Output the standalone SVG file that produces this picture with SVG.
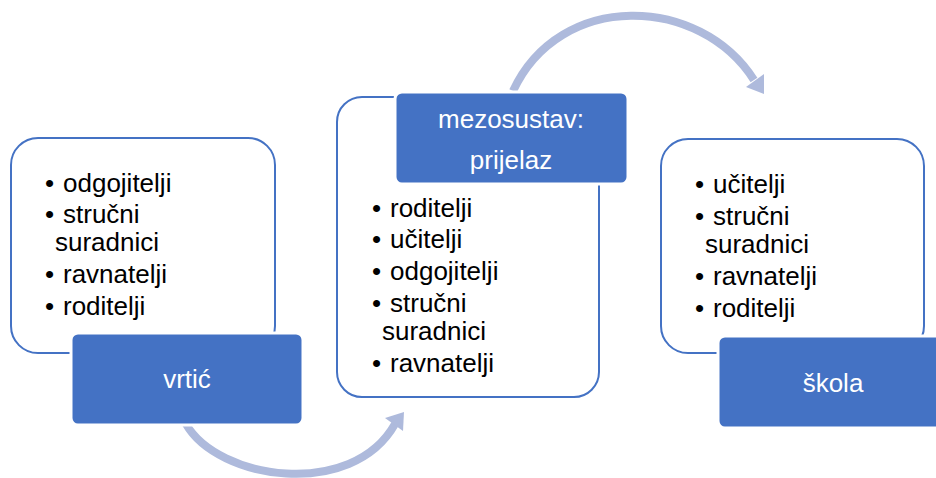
<svg xmlns="http://www.w3.org/2000/svg" width="936" height="478" viewBox="0 0 936 478">
<style>
.outline{fill:#fff;stroke:#4472C4;stroke-width:2}
.head{fill:#4472C4;stroke:#fff;stroke-width:3}
.t{font-family:"Liberation Sans",Arial,sans-serif;font-size:26px;fill:#000}
.w{font-family:"Liberation Sans",Arial,sans-serif;font-size:26px;fill:#fff;text-anchor:middle}
.arc{fill:none;stroke:#AEBADC;stroke-width:8}
.ah{fill:#AEBADC}
</style>
<rect width="936" height="478" fill="#fff"/>
<g id="connectors">
<path class="arc" d="M186 424 C 218 480, 352 500, 395 424"/>
<polygon class="ah" points="404,412 403,431 385,418"/>
<path class="arc" d="M513 91 C 560 -10, 700 -5, 754 80"/>
<polygon class="ah" points="764,94 764,74 746,87"/>
</g>
<g id="vrtic">
<rect class="outline" x="11" y="138" width="264" height="215" rx="27"/>
<text class="t" x="45" y="192">•</text><text class="t" x="63" y="192">odgojitelji</text>
<text class="t" x="45" y="223">•</text><text class="t" x="63" y="223">stručni</text>
<text class="t" x="55" y="251">suradnici</text>
<text class="t" x="45" y="283">•</text><text class="t" x="63" y="283">ravnatelji</text>
<text class="t" x="45" y="315">•</text><text class="t" x="63" y="315">roditelji</text>
<rect class="head" x="71" y="333" width="232" height="92" rx="7"/>
<text class="w" x="187" y="388">vrtić</text>
</g>
<g id="mezosustav">
<rect class="outline" x="337" y="97" width="262" height="300" rx="25"/>
<rect class="head" x="395" y="92" width="233" height="92" rx="7"/>
<text class="w" x="511" y="128">mezosustav:</text>
<text class="w" x="511" y="169">prijelaz</text>
<text class="t" x="372" y="217">•</text><text class="t" x="390" y="217">roditelji</text>
<text class="t" x="372" y="248">•</text><text class="t" x="390" y="248">učitelji</text>
<text class="t" x="372" y="280">•</text><text class="t" x="390" y="280">odgojitelji</text>
<text class="t" x="372" y="312">•</text><text class="t" x="390" y="312">stručni</text>
<text class="t" x="382" y="340">suradnici</text>
<text class="t" x="372" y="372">•</text><text class="t" x="390" y="372">ravnatelji</text>
</g>
<g id="skola">
<rect class="outline" x="661" y="139" width="263" height="214" rx="27"/>
<text class="t" x="695" y="193">•</text><text class="t" x="713" y="193">učitelji</text>
<text class="t" x="695" y="225">•</text><text class="t" x="713" y="225">stručni</text>
<text class="t" x="705" y="253">suradnici</text>
<text class="t" x="695" y="285">•</text><text class="t" x="713" y="285">ravnatelji</text>
<text class="t" x="695" y="317">•</text><text class="t" x="713" y="317">roditelji</text>
<rect class="head" x="718" y="336" width="232" height="92" rx="7"/>
<text class="w" x="833" y="392">škola</text>
</g>
</svg>
